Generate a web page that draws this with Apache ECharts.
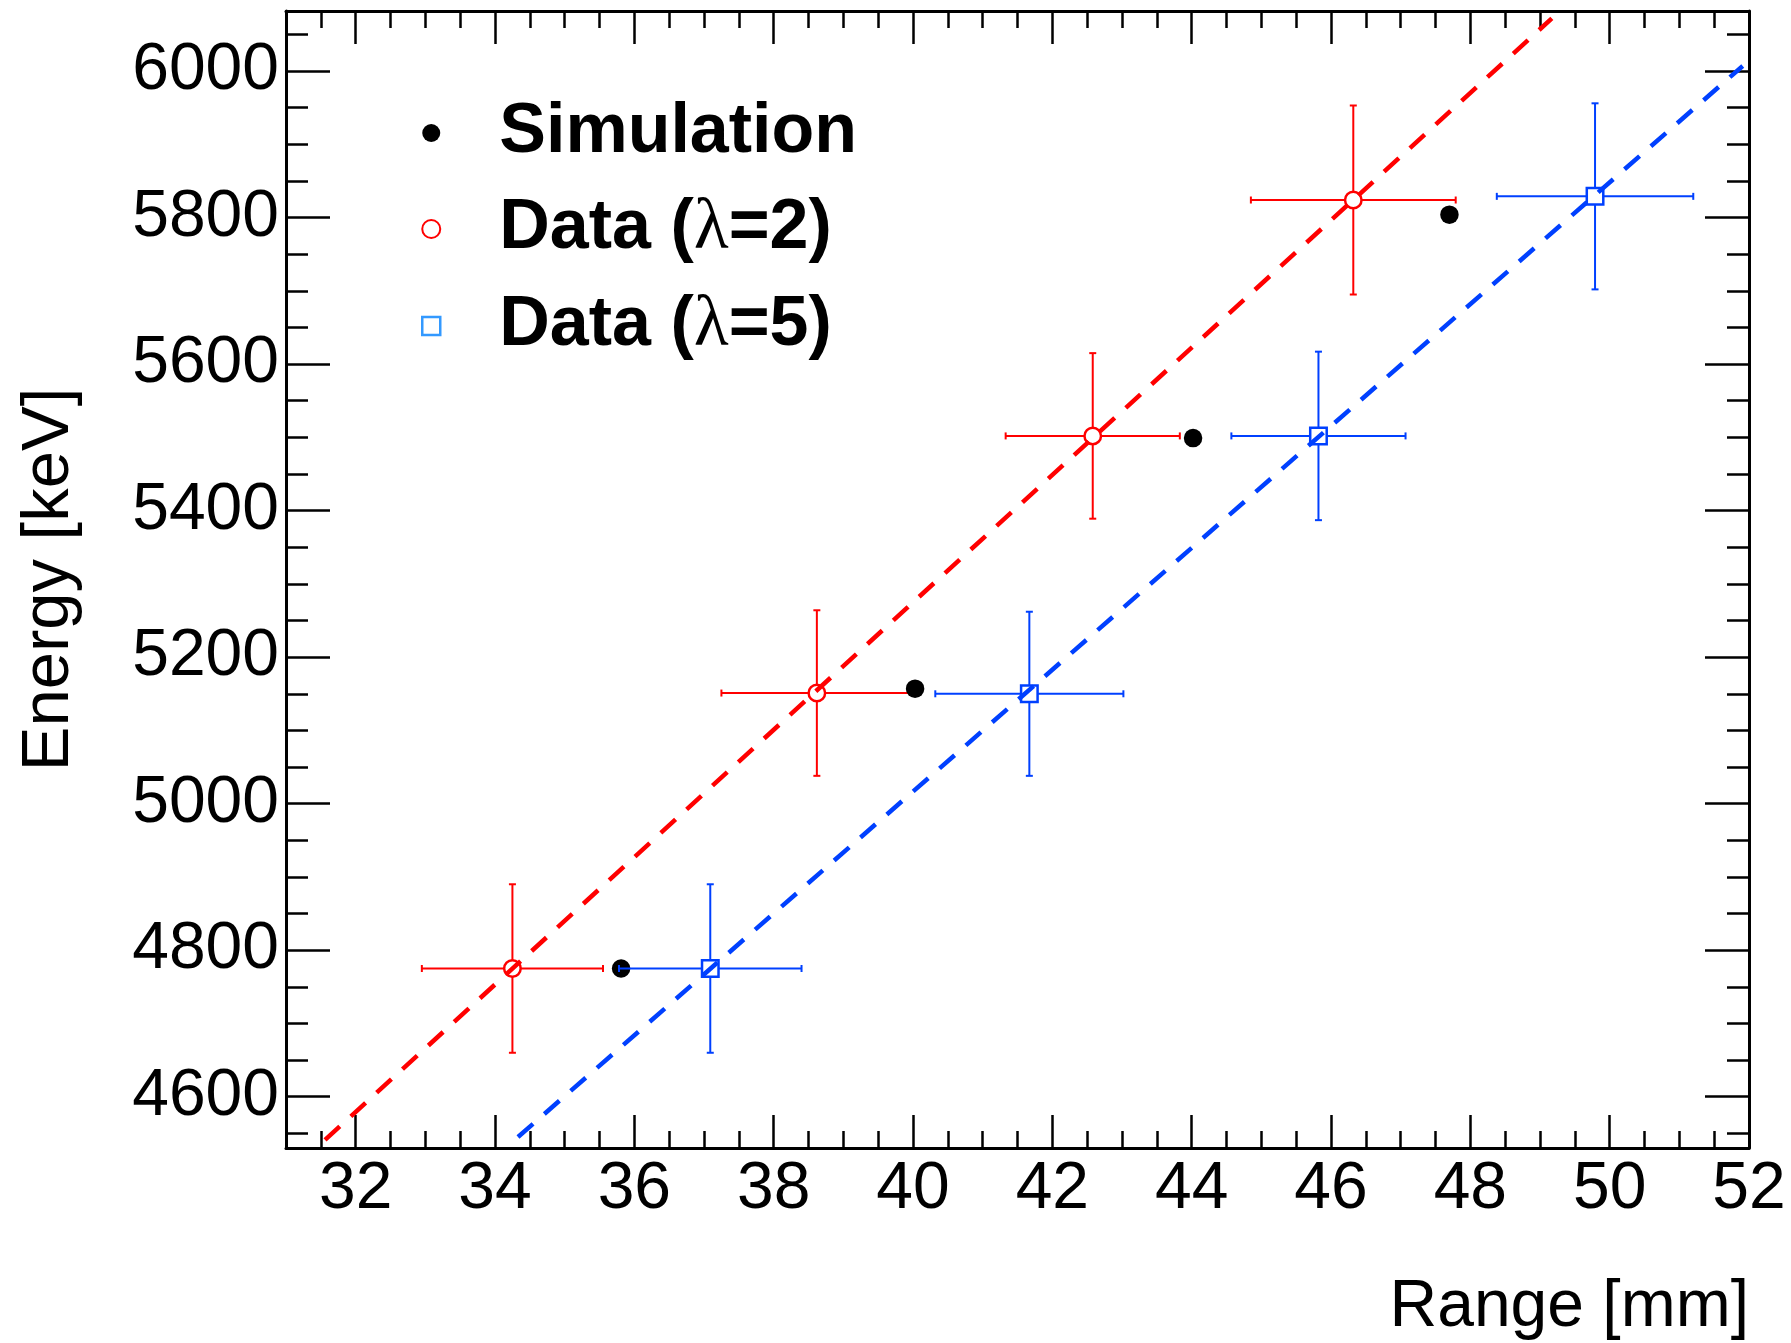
<!DOCTYPE html>
<html>
<head>
<meta charset="utf-8">
<title>Energy vs Range</title>
<script src="https://cdn.jsdelivr.net/npm/echarts@6/dist/echarts.min.js"></script>
<style>
  html, body { margin: 0; padding: 0; background: #ffffff; }
  #chart { width: 1791px; height: 1343px; }
</style>
</head>
<body>
<div id="chart"></div>
<script>
// Simulated range / energy points
const simRange = [35.81, 40.03, 44.02, 47.70];
const simEnergy = [4775, 5157, 5499, 5804];

// Measured points, lambda = 2
const lam2Range = [34.25, 38.62, 42.58, 46.32];
const lam2RangeErr = [1.30, 1.37, 1.25, 1.47];
const lam2Energy = [4775, 5151, 5502, 5824];
const lam2EnergyErr = [115, 113, 113, 129];

// Measured points, lambda = 5
const lam5Range = [37.09, 41.67, 45.82, 49.79];
const lam5RangeErr = [1.31, 1.35, 1.25, 1.41];
const lam5Energy = [4775, 5150, 5502, 5829];
const lam5EnergyErr = [115, 112, 115, 127];

// Linear fits, drawn between these end points
const lam2Fit = [[31.56, 4541], [49.17, 6072]];
const lam5Fit = [[34.33, 4545], [51.91, 6007]];

// Axis ranges
const rangeAxis = [31, 52];
const energyAxis = [4530, 6082];

const seriesNames = ['Simulation', 'Data (\u03bb=2)', 'Data (\u03bb=5)'];

const RED = '#ff0000';
const BLUE = '#0040ff';
const FONT = 'Liberation Sans';

function zipPoints(xs, ys) {
  return xs.map((x, i) => [x, ys[i]]);
}
function zipErrors(xs, ys, exs, eys) {
  return xs.map((x, i) => [x, ys[i], exs[i], eys[i]]);
}

// Cross-shaped error bars with short end caps
function errorBars(color) {
  return function (params, api) {
    const x = api.value(0), y = api.value(1);
    const ex = api.value(2), ey = api.value(3);
    const l = api.coord([x - ex, y]);
    const r = api.coord([x + ex, y]);
    const t = api.coord([x, y + ey]);
    const b = api.coord([x, y - ey]);
    const cap = 3.5;
    const seg = (x1, y1, x2, y2) => ({
      type: 'line',
      shape: { x1: x1, y1: y1, x2: x2, y2: y2 },
      style: { stroke: color, lineWidth: 2 }
    });
    return {
      type: 'group',
      children: [
        seg(l[0], l[1], r[0], r[1]),
        seg(t[0], t[1], b[0], b[1]),
        seg(l[0], l[1] - cap, l[0], l[1] + cap),
        seg(r[0], r[1] - cap, r[0], r[1] + cap),
        seg(t[0] - cap, t[1], t[0] + cap, t[1]),
        seg(b[0] - cap, b[1], b[0] + cap, b[1])
      ]
    };
  };
}

const frameLine = { show: true, onZero: false, lineStyle: { color: '#000000', width: 3 } };
const plainNumber = (v) => String(Math.round(v));

function xAxisDef(position, withLabels) {
  return {
    type: 'value',
    position: position,
    min: rangeAxis[0],
    max: rangeAxis[1],
    splitNumber: 10,
    axisLine: frameLine,
    axisTick: { show: true, inside: true, length: 33, lineStyle: { color: '#000', width: 2.5 } },
    minorTick: { show: true, splitNumber: 4, length: 17, lineStyle: { color: '#000', width: 2.5 } },
    splitLine: { show: false },
    axisLabel: {
      show: withLabels, margin: 9, showMinLabel: false,
      formatter: plainNumber,
      fontFamily: FONT, fontSize: 66, color: '#000'
    },
    name: withLabels ? 'Range [mm]' : '',
    nameLocation: 'end',
    nameGap: 0,
    nameTextStyle: {
      fontFamily: FONT, fontSize: 66, color: '#000',
      align: 'right', verticalAlign: 'top', padding: [127, 0, 0, 0]
    }
  };
}

function yAxisDef(position, withLabels) {
  return {
    type: 'value',
    position: position,
    min: energyAxis[0],
    max: energyAxis[1],
    splitNumber: 8,
    axisLine: frameLine,
    axisTick: { show: true, inside: true, length: 44, lineStyle: { color: '#000', width: 2.5 } },
    minorTick: { show: true, splitNumber: 4, length: 22, lineStyle: { color: '#000', width: 2.5 } },
    splitLine: { show: false },
    axisLabel: {
      show: withLabels, margin: 7, showMinLabel: false, showMaxLabel: false,
      formatter: plainNumber,
      fontFamily: FONT, fontSize: 66, color: '#000'
    },
    name: withLabels ? 'Energy [keV]' : '',
    nameLocation: 'middle',
    nameRotate: 90,
    nameGap: 203,
    nameTextStyle: { fontFamily: FONT, fontSize: 67, color: '#000' }
  };
}

const legendRich = {
  g: { width: 54 },
  b: { fontFamily: FONT, fontWeight: 'bold', fontSize: 70, lineHeight: 80, color: '#000' },
  l: { fontFamily: 'Liberation Serif', fontWeight: 'normal', fontSize: 72, lineHeight: 80, color: '#000' }
};

const option = {
  backgroundColor: '#ffffff',
  animation: false,
  grid: { left: 286, right: 42, top: 11, bottom: 195, containLabel: false },
  xAxis: [xAxisDef('bottom', true), xAxisDef('top', false)],
  yAxis: [yAxisDef('left', true), yAxisDef('right', false)],
  legend: {
    orient: 'vertical',
    left: 416,
    top: 93,
    itemWidth: 18,
    itemHeight: 18,
    itemGap: 25,
    selectedMode: false,
    data: [
      { name: seriesNames[0], icon: 'circle', itemStyle: { color: '#000000', borderWidth: 0 } },
      { name: seriesNames[1], icon: 'circle', itemStyle: { color: '#ffffff', borderColor: RED, borderWidth: 2 } },
      { name: seriesNames[2], icon: 'rect', itemStyle: { color: '#ffffff', borderColor: '#3399ff', borderWidth: 2.5 } }
    ],
    formatter: function (name) {
      const i = name.indexOf('\u03bb');
      if (i < 0) return '{g|}{b|' + name + '}';
      return '{g|}{b|' + name.slice(0, i) + '}{l|\u03bb}{b|' + name.slice(i + 1) + '}';
    },
    textStyle: { rich: legendRich }
  },
  series: [
    {
      name: seriesNames[1] + ' errors',
      type: 'custom',
      z: 2,
      silent: true,
      encode: { x: 0, y: 1 },
      renderItem: errorBars(RED),
      data: zipErrors(lam2Range, lam2Energy, lam2RangeErr, lam2EnergyErr)
    },
    {
      name: seriesNames[1],
      type: 'scatter',
      z: 3,
      symbol: 'circle',
      symbolSize: 16.5,
      itemStyle: { color: '#ffffff', borderColor: RED, borderWidth: 2.5, opacity: 1 },
      data: zipPoints(lam2Range, lam2Energy)
    },
    {
      name: seriesNames[0],
      type: 'scatter',
      z: 4,
      symbol: 'circle',
      symbolSize: 18.5,
      itemStyle: { color: '#000000', opacity: 1 },
      data: zipPoints(simRange, simEnergy)
    },
    {
      name: seriesNames[2] + ' errors',
      type: 'custom',
      z: 5,
      silent: true,
      encode: { x: 0, y: 1 },
      renderItem: errorBars(BLUE),
      data: zipErrors(lam5Range, lam5Energy, lam5RangeErr, lam5EnergyErr)
    },
    {
      name: seriesNames[2],
      type: 'scatter',
      z: 6,
      symbol: 'rect',
      symbolSize: 16.5,
      itemStyle: { color: '#ffffff', borderColor: BLUE, borderWidth: 2.5, opacity: 1 },
      data: zipPoints(lam5Range, lam5Energy)
    },
    {
      name: 'fit \u03bb=2',
      type: 'line',
      z: 7,
      silent: true,
      symbol: 'none',
      lineStyle: { color: RED, width: 4.5, type: [20, 15], cap: 'butt' },
      data: lam2Fit
    },
    {
      name: 'fit \u03bb=5',
      type: 'line',
      z: 7,
      silent: true,
      symbol: 'none',
      lineStyle: { color: BLUE, width: 4.5, type: [20, 15], cap: 'butt' },
      data: lam5Fit
    }
  ]
};

const chart = echarts.init(document.getElementById('chart'), null, { renderer: 'canvas' });
chart.setOption(option);
</script>
</body>
</html>
